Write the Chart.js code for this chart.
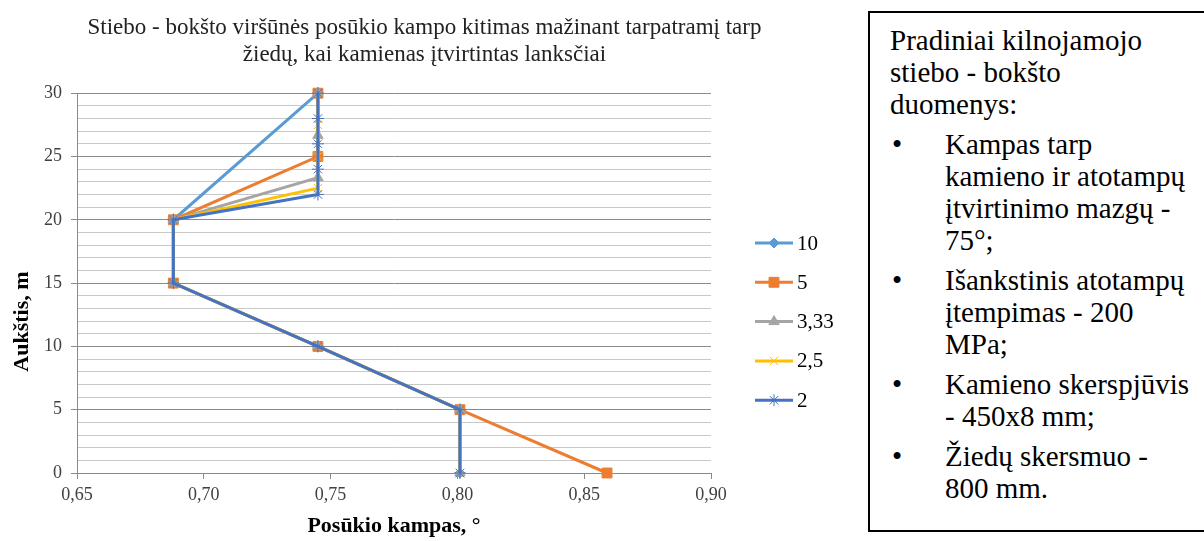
<!DOCTYPE html>
<html>
<head>
<meta charset="utf-8">
<script src="https://cdn.jsdelivr.net/npm/chart.js@4.4.1/dist/chart.umd.min.js"></script>
<style>
    body { margin: 0; background: #fff; width: 1204px; height: 541px; overflow: hidden; position: relative; }
    #chartBox { position: absolute; left: 0; top: 0; width: 849px; height: 541px; }
    #info {
        position: absolute; left: 868px; top: 11px; width: 345px; height: 521px;
        box-sizing: border-box; border: 2px solid #000; padding: 11px 0 0 20px;
        font-family: 'Liberation Serif', 'Times New Roman', serif; font-size: 29px; line-height: 32px; color: #000; white-space: nowrap;
    }
    #info .item { position: relative; padding-left: 55px; margin-top: 8px; }
    #info .item span { position: absolute; left: 2px; top: 0; }
</style>
</head>
<body>
<div id="chartBox"><canvas id="myChart" width="849" height="541"></canvas></div>
<div id="info">
    <div>Pradiniai kilnojamojo<br>stiebo - bokšto<br>duomenys:</div>
    <div class="item"><span>•</span>Kampas tarp<br>kamieno ir atotampų<br>įtvirtinimo mazgų -<br>75°;</div>
    <div class="item"><span>•</span>Išankstinis atotampų<br>įtempimas - 200<br>MPa;</div>
    <div class="item"><span>•</span>Kamieno skerspjūvis<br>- 450x8 mm;</div>
    <div class="item"><span>•</span>Žiedų skersmuo -<br>800 mm.</div>
</div>
<script>
const seriesNames = ['10', '5', '3,33', '2,5', '2'];

const heights10 = [0, 5, 10, 15, 20, 30];
const angles10  = [0.801, 0.801, 0.745, 0.688, 0.688, 0.745];

const heights5 = [0, 5, 10, 15, 20, 25, 30];
const angles5  = [0.859, 0.801, 0.745, 0.688, 0.688, 0.745, 0.745];

const heights333 = [0, 5, 10, 15, 20, 23.33, 26.67, 30];
const angles333  = [0.801, 0.801, 0.745, 0.688, 0.688, 0.745, 0.745, 0.745];

const heights25 = [0, 5, 10, 15, 20, 22.5, 25, 27.5, 30];
const angles25  = [0.801, 0.801, 0.745, 0.688, 0.688, 0.745, 0.745, 0.745, 0.745];

const heights2 = [0, 5, 10, 15, 20, 22, 24, 26, 28, 30];
const angles2  = [0.801, 0.801, 0.745, 0.688, 0.688, 0.745, 0.745, 0.745, 0.745, 0.745];

const colors = ['#5B9BD5', '#ED7D31', '#A5A5A5', '#FFC000', '#4472C4'];
const markers = ['rectRot', 'rect', 'triangle', 'crossRot', 'star'];
const markerSizes = [5, 7, 6, 6, 6];

const FONT = "'Liberation Serif', 'Times New Roman', serif";

function makePoints(xs, ys){
    return xs.map((x, i) => ({x: x, y: ys[i]}));
}

const allX = [angles10, angles5, angles333, angles25, angles2];
const allY = [heights10, heights5, heights333, heights25, heights2];

const datasets = seriesNames.map((name, i) => ({
    label: name,
    data: makePoints(allX[i], allY[i]),
    showLine: true,
    borderColor: colors[i],
    backgroundColor: colors[i],
    pointBackgroundColor: colors[i],
    pointBorderColor: colors[i],
    pointBorderWidth: 1,
    borderWidth: 3,
    pointStyle: markers[i],
    pointRadius: markerSizes[i],
    order: seriesNames.length - 1 - i,
    clip: false
}));

// legend drawn at the right of the plot, line + marker like the original
const sideLegend = {
    id: 'sideLegend',
    afterDraw(chart){
        const ctx = chart.ctx;
        const x0 = chart.chartArea.right + 44;
        chart.data.datasets.forEach((ds, i) => {
            const y = 243 + i * 39.3;
            ctx.save();
            ctx.strokeStyle = ds.borderColor;
            ctx.lineWidth = 3;
            ctx.beginPath();
            ctx.moveTo(x0, y);
            ctx.lineTo(x0 + 38, y);
            ctx.stroke();
            ctx.fillStyle = ds.pointBackgroundColor;
            ctx.strokeStyle = ds.pointBorderColor;
            ctx.lineWidth = 1;
            Chart.helpers.drawPoint(ctx, {pointStyle: ds.pointStyle, radius: ds.pointRadius, rotation: 0, borderWidth: 1}, x0 + 19, y);
            ctx.fillStyle = '#000';
            ctx.font = '21px ' + FONT;
            ctx.textBaseline = 'middle';
            ctx.fillText(ds.label, x0 + 42, y + 1);
            ctx.restore();
        });
    }
};

function drawChart(){
    const ctx = document.getElementById('myChart').getContext('2d');
    new Chart(ctx, {
        type: 'scatter',
        data: { datasets: datasets },
        options: {
            responsive: false,
            animation: false,
            layout: { padding: 0 },
            plugins: {
                legend: { display: false },
                tooltip: { enabled: false },
                title: {
                    display: true,
                    text: ['Stiebo - bokšto viršūnės posūkio kampo kitimas mažinant tarpatramį tarp',
                           'žiedų, kai kamienas įtvirtintas lanksčiai'],
                    font: { family: FONT, size: 23, weight: 'normal', lineHeight: 1.2 },
                    color: '#222',
                    padding: { top: 14, bottom: 24 }
                }
            },
            scales: {
                x: {
                    type: 'linear',
                    min: 0.65,
                    max: 0.90,
                    afterFit(scale){ scale.height = 68; },
                    ticks: {
                        stepSize: 0.05,
                        padding: 5,
                        color: '#404040',
                        font: { family: FONT, size: 18 },
                        callback: (v) => v.toFixed(2).replace('.', ',')
                    },
                    grid: { drawOnChartArea: false, tickLength: 6, color: '#8a8a8a' },
                    border: { color: '#8a8a8a' },
                    title: {
                        display: true,
                        text: 'Posūkio kampas, °',
                        font: { family: FONT, size: 22, weight: 'bold', lineHeight: 1.2 },
                        color: '#000',
                        padding: { top: 0, bottom: 1 }
                    }
                },
                y: {
                    type: 'linear',
                    min: 0,
                    max: 30,
                    afterFit(scale){ scale.width = 77; },
                    ticks: {
                        stepSize: 1,
                        autoSkip: false,
                        padding: 9,
                        color: '#404040',
                        font: { family: FONT, size: 18 },
                        callback: (v) => (v % 5 === 0 ? String(v) : '')
                    },
                    grid: {
                        color: (c) => (c.tick && c.tick.value % 5 === 0 ? '#8a8a8a' : '#c8c8c8'),
                        tickColor: (c) => (c.tick && c.tick.value % 5 === 0 ? '#8a8a8a' : 'rgba(0,0,0,0)'),
                        tickLength: 6
                    },
                    border: { color: '#8a8a8a' },
                    title: {
                        display: true,
                        text: 'Aukštis, m' + '\u00a0'.repeat(14),
                        font: { family: FONT, size: 22, weight: 'bold', lineHeight: 1.2 },
                        color: '#000',
                        padding: { top: 9, bottom: 0 }
                    }
                },
                // empty right axis that only reserves room for the legend
                legendSpace: {
                    type: 'linear',
                    position: 'right',
                    afterFit(scale){ scale.width = 138; },
                    ticks: { display: false },
                    grid: { display: false },
                    border: { display: false }
                }
            }
        },
        plugins: [sideLegend]
    });
}

Promise.all([
    document.fonts.load("18px 'Liberation Serif'"),
    document.fonts.load("bold 22px 'Liberation Serif'")
]).then(drawChart, drawChart);
</script>
</body>
</html>
